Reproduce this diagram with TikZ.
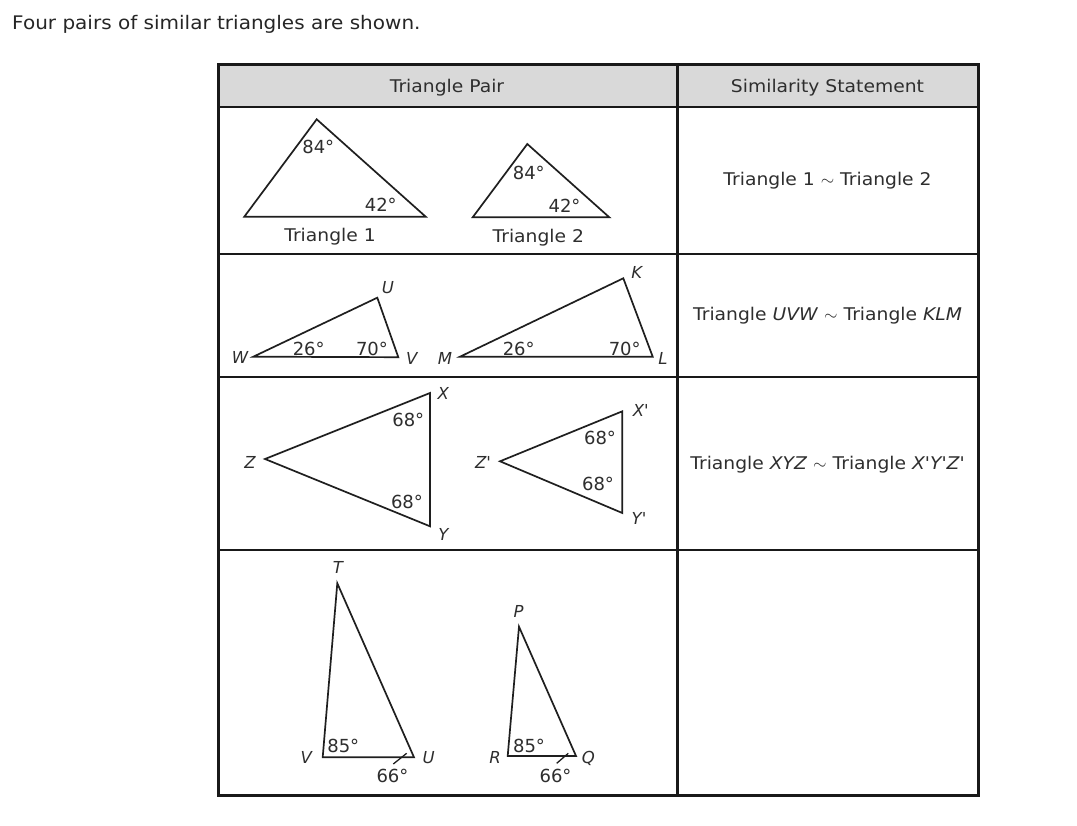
\documentclass[tikz,border=0pt]{standalone}
\usepackage{fontspec}
\setmainfont{DejaVu Sans}
\newfontfamily\dvwide{DejaVu Sans}[FakeStretch=1.07]
\newfontfamily\dv{DejaVu Sans}
\begin{document}
\begin{tikzpicture}[x=1pt,y=-1pt,
  tri/.style={draw=black!88, line width=1.7pt, line join=miter},
  txt/.style={font=\dvwide\fontsize{17.5}{20}\selectfont, text=black!82, inner sep=0pt},
  deg/.style={font=\dv\fontsize{18}{20}\selectfont, text=black!82, inner sep=0pt},
  vlab/.style={font=\dv\fontsize{16.5}{20}\selectfont\itshape, text=black!82, inner sep=0pt},
  thick line/.style={line width=3pt, draw=black!90},
  thin line/.style={line width=2pt, draw=black!90}]
\useasboundingbox (0,0) rectangle (1077,826);
\fill[white] (0,0) rectangle (1077,826);

% title
\node[txt, anchor=base west, font=\dvwide\fontsize{18.7}{22}\selectfont, text=black!85] (title) at (12,30) {Four pairs of similar triangles are shown.};

% table
\fill[black!15] (218.3,65) rectangle (978.3,107);
\draw[thin line] (218.3,254) -- (978.3,254);
\draw[thin line] (218.3,377.3) -- (978.3,377.3);
\draw[thin line] (218.3,550) -- (978.3,550);
\draw[line width=2.6pt, draw=black!90] (218.3,107) -- (978.3,107);
\draw[thick line] (677,65) -- (677,795);
\draw[thick line] (218.3,65) rectangle (978.3,795);

\node[txt, anchor=base] (h1) at (447,93) {Triangle Pair};
\node[txt, anchor=base] (h2) at (827.5,93) {Similarity Statement};
\node[txt, anchor=base] (s1) at (827.5,185.7) {Triangle 1 $\sim$ Triangle 2};
\node[txt, anchor=base] (s2) at (827.5,320.7) {Triangle \textit{UVW} $\sim$ Triangle \textit{KLM}};
\node[txt, anchor=base] (s3) at (827.5,469) {Triangle \textit{XYZ} $\sim$ Triangle \textit{X'Y'Z'}};

% Row 1
\coordinate (A1) at (316.7,119.3);
\coordinate (B1) at (244.3,216.7);
\coordinate (C1) at (425.7,216.7);
\draw[tri] (A1) -- (B1) -- (C1) -- cycle;
\node[deg] (a84) at (318.3,147.3) {84°};
\node[deg] (a42) at (380.8,205.3) {42°};
\node[txt, anchor=base] (t1) at (330,241.7) {Triangle 1};

\coordinate (A2) at (527.3,144);
\coordinate (B2) at (472.7,217.3);
\coordinate (C2) at (609.3,217.3);
\draw[tri] (A2) -- (B2) -- (C2) -- cycle;
\node[deg] (b84) at (528.8,173) {84°};
\node[deg] (b42) at (564.5,205.5) {42°};
\node[txt, anchor=base] (t2) at (538.3,242.3) {Triangle 2};

% Row 2
\coordinate (W) at (253.3,356.7);
\coordinate (U) at (377.3,297.7);
\coordinate (V) at (398.3,357.2);
\draw[tri] (W) -- (U) -- (V) -- cycle;
\node[vlab] (lW) at (240,357.8) {W};
\node[vlab] (lU) at (387.8,288) {U};
\node[vlab] (lV) at (411.7,358) {V};
\node[deg] (c26) at (308.7,348.7) {26°};
\node[deg] (c70) at (372,348.7) {70°};

\coordinate (M) at (460,356.7);
\coordinate (K) at (623.3,278.3);
\coordinate (L) at (652.7,356.7);
\draw[tri] (M) -- (K) -- (L) -- cycle;
\node[vlab] (lM) at (445,358.3) {M};
\node[vlab] (lK) at (636.7,272.5) {K};
\node[vlab] (lL) at (663,358.3) {L};
\node[deg] (d26) at (518.7,348.7) {26°};
\node[deg] (d70) at (624.7,348.7) {70°};

% Row 3
\coordinate (Z) at (265,459);
\coordinate (X) at (430,393);
\coordinate (Y) at (430,526.3);
\draw[tri] (Z) -- (X) -- (Y) -- cycle;
\node[vlab] (lZ) at (250,462.7) {Z};
\node[vlab] (lX) at (443.3,393) {X};
\node[vlab] (lY) at (443.3,534.7) {Y};
\node[deg] (e68a) at (408.3,419.7) {68°};
\node[deg] (e68b) at (407,501.7) {68°};

\coordinate (Zp) at (500,461.3);
\coordinate (Xp) at (622.3,411.3);
\coordinate (Yp) at (622.3,513);
\draw[tri] (Zp) -- (Xp) -- (Yp) -- cycle;
\node[vlab] (lZp) at (483,462.5) {Z'};
\node[vlab] (lXp) at (640.8,410.5) {X'};
\node[vlab] (lYp) at (639,518) {Y'};
\node[deg] (f68a) at (600,438) {68°};
\node[deg] (f68b) at (598,484.3) {68°};

% Row 4
\coordinate (T) at (337.3,583.3);
\coordinate (V2) at (322.7,757.3);
\coordinate (U2) at (414,757.3);
\draw[tri] (T) -- (V2) -- (U2) -- cycle;
\node[vlab] (lT) at (338,567.3) {T};
\node[vlab] (lV2) at (306.2,757.2) {V};
\node[vlab] (lU2) at (428.7,757.2) {U};
\node[deg] (g85) at (343.3,746.3) {85°};
\node[deg] (g66) at (392.5,775.8) {66°};
\coordinate (g66a) at (393.3,764);
\coordinate (g66b) at (406.7,753.3);
\draw[line width=1.3pt, draw=black!88] (g66a) -- (g66b);

\coordinate (P) at (519,626.7);
\coordinate (R) at (507.7,756);
\coordinate (Q) at (576,756);
\draw[tri] (P) -- (R) -- (Q) -- cycle;
\node[vlab] (lP) at (518.7,611.7) {P};
\node[vlab] (lR) at (495,757.2) {R};
\node[vlab] (lQ) at (588.3,758.5) {Q};
\node[deg] (h85) at (529,745.7) {85°};
\node[deg] (h66) at (555.5,775.8) {66°};
\coordinate (h66a) at (556.7,763.3);
\coordinate (h66b) at (568.3,753.3);
\draw[line width=1.3pt, draw=black!88] (h66a) -- (h66b);
\end{tikzpicture}
\end{document}
